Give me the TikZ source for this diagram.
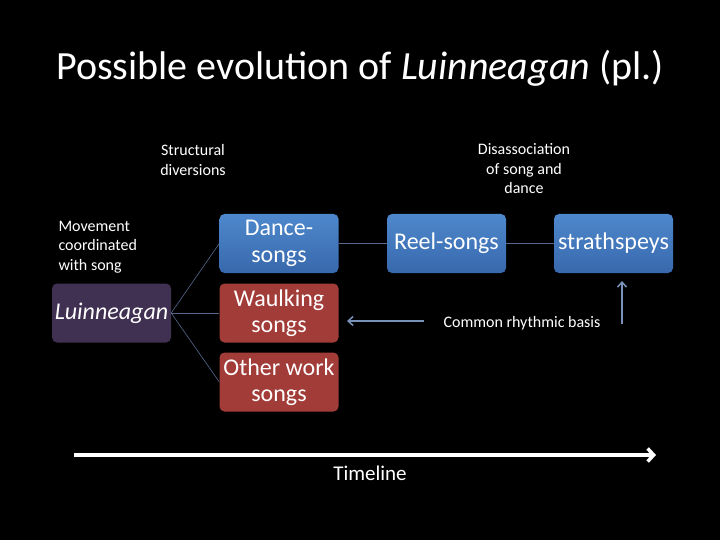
\documentclass[tikz,border=0pt]{standalone}
\usepackage{fontspec}
\setmainfont{Carlito}
\usetikzlibrary{arrows.meta}
\definecolor{boxbluetop}{RGB}{78,136,204}
\definecolor{boxbluebot}{RGB}{56,104,172}
\definecolor{boxred}{RGB}{162,60,56}
\definecolor{boxpurple}{RGB}{64,49,82}
\definecolor{linkgrey}{RGB}{86,104,140}
\definecolor{arrowblue}{RGB}{120,146,186}
\tikzset{
	stage/.style={rounded corners=5pt, minimum width=119pt, minimum height=59pt, inner sep=0pt,
		text=white, align=center, font=\fontsize{24}{26.5}\selectfont},
	bluestage/.style={stage, top color=boxbluetop, bottom color=boxbluebot},
	redstage/.style={stage, fill=boxred},
	note/.style={text=white, align=center, font=\fontsize{16}{19.5}\selectfont},
	link/.style={draw=linkgrey, line width=0.6pt}
}
\begin{document}
\begin{tikzpicture}[x=1pt,y=-1pt]
	\fill[black] (0,0) rectangle (720,540);
	\useasboundingbox (0,0) rectangle (720,540);
	
	\node[text=white, font=\fontsize{40}{44}\selectfont] (title) at (360,68) {Possible evolution of \textit{Luinneagan} (pl.)};
	
	\node[note] (struct) at (193,160) {Structural\\diversions};
	\node[note] (disso) at (524,169) {Disassociation\\of song and\\dance};
	\node[note, align=left, anchor=west] (move) at (55,247) {Movement\\coordinated\\with song};
	
	\node[stage, fill=boxpurple, font=\fontsize{24}{26.5}\selectfont\itshape] (luin) at (111.5,313) {Luinneagan};
	\node[bluestage] (dance) at (279,243.5) {Dance-\\songs};
	\node[redstage] (waulk) at (279,313) {Waulking\\songs};
	\node[redstage] (other) at (279,382) {Other work\\songs};
	\node[bluestage] (reel) at (446.5,243.5) {Reel-songs};
	\node[bluestage] (strath) at (613.5,243.5) {strathspeys};
	
	\foreach \target in {dance,waulk,other}{
		\draw[link] (luin.east) -- (\target.west);
	}
	\draw[link] (dance.east) -- (reel.west);
	\draw[link] (reel.east) -- (strath.west);
	
	\node[note] (basis) at (522,323) {Common rhythmic basis};
	\coordinate (basisleft) at (424,321);
	\coordinate (basistip) at (347,321);
	\coordinate (basisup) at (622,324);
	\coordinate (basisuptip) at (622,281);
	\draw[arrowblue, line width=1.5pt, -{Straight Barb[length=5pt,width=9pt]}] (basisleft) -- (basistip);
	\draw[arrowblue, line width=1.5pt, -{Straight Barb[length=5pt,width=9pt]}] (basisup) -- (basisuptip);
	
	\coordinate (tstart) at (74,455);
	\coordinate (tend) at (656,455);
	\draw[white, line width=3.5pt, -{Straight Barb[length=6pt,width=13pt]}] (tstart) -- (tend);
	\node[text=white, font=\fontsize{21}{24}\selectfont] (timeline) at (370,473) {Timeline};
\end{tikzpicture}
\end{document}
